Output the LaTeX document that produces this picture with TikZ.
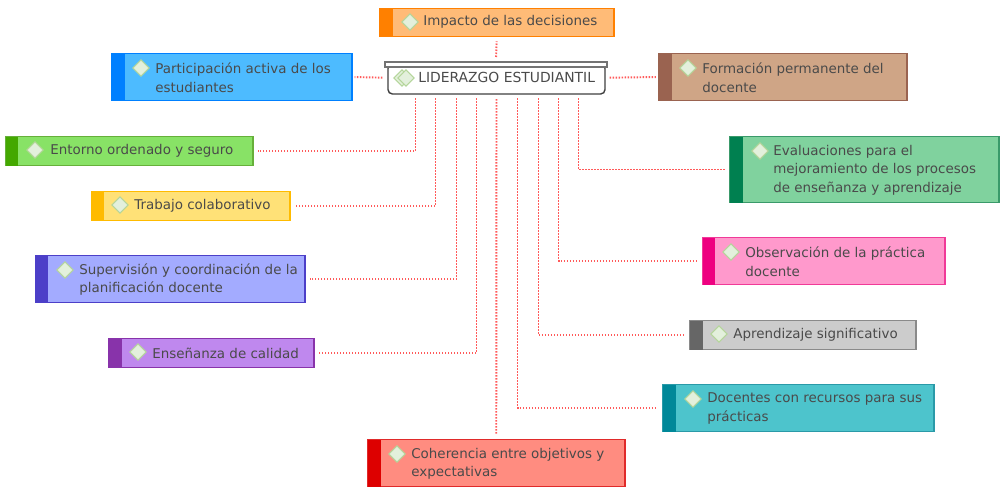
\documentclass[tikz,border=0pt]{standalone}
\usepackage{xcolor}
\usepackage{fontspec}
\setmainfont{DejaVu Sans}
\usepackage{tikz}
\usetikzlibrary{positioning,calc,fit,shapes.geometric}

\definecolor{textgray}{HTML}{4A4A4A}
\definecolor{linkred}{HTML}{FF5A5A}
\definecolor{markline}{HTML}{B5D69B}
\definecolor{markfill}{HTML}{E3F0DC}
\definecolor{orangeline}{HTML}{FF8000}
\definecolor{orangefill}{HTML}{FFBB77}
\definecolor{blueline}{HTML}{0080FF}
\definecolor{bluefill}{HTML}{4DBBFF}
\definecolor{greenline}{HTML}{44A800}
\definecolor{greenedge}{HTML}{66B03A}
\definecolor{greenfill}{HTML}{88E266}
\definecolor{yellowline}{HTML}{FFBB00}
\definecolor{yellowfill}{HTML}{FFE177}
\definecolor{indigoline}{HTML}{4C3FC8}
\definecolor{indigofill}{HTML}{A3ABFF}
\definecolor{purpleline}{HTML}{8833AA}
\definecolor{purplefill}{HTML}{BF88EE}
\definecolor{redline}{HTML}{DD0000}
\definecolor{rededge}{HTML}{E02A2A}
\definecolor{redfill}{HTML}{FF8C80}
\definecolor{brownline}{HTML}{9A6350}
\definecolor{brownfill}{HTML}{CFA586}
\definecolor{jadeline}{HTML}{008050}
\definecolor{jadeedge}{HTML}{3A9A6A}
\definecolor{jadefill}{HTML}{80D29E}
\definecolor{pinkline}{HTML}{EE0080}
\definecolor{pinkedge}{HTML}{F03A98}
\definecolor{pinkfill}{HTML}{FF99CC}
\definecolor{grayline}{HTML}{666666}
\definecolor{grayedge}{HTML}{8A8A8A}
\definecolor{grayfill}{HTML}{CCCCCC}
\definecolor{tealline}{HTML}{008899}
\definecolor{tealedge}{HTML}{2A9AA8}
\definecolor{tealfill}{HTML}{4DC4CC}

\begin{document}
\begin{tikzpicture}[
	x=0.02cm, y=-0.02cm,
	every node/.style={font=\fontsize{7.65}{10.6}\selectfont, text=textgray},
	topic_box/.style 2 args={
		rectangle, draw=#1, fill=#2, line width=0.65pt, inner sep=0pt
	},
	topic_strip/.style={
		rectangle, fill=#1, inner sep=0pt
	},
	topic_mark/.style={
		diamond, draw=markline, fill=markfill, line width=0.6pt,
		minimum size=0.33cm, inner sep=0pt
	},
	topic_text/.style={
		anchor=west, align=left, inner sep=0pt, yshift=-0.4pt
	},
	root_box/.style={
		rectangle, draw=black!75, fill=white, line width=0.8pt,
		rounded corners=2.5pt, inner sep=0pt
	},
	root_bar/.style={
		rectangle, draw=black!55, fill=white, line width=0.7pt, inner sep=0pt
	},
	link/.style={
		draw=linkred, line width=1.1pt, dash pattern=on 0.8536pt off 0.8536pt,
		shorten >=2.5pt, shorten <=2.5pt
	},
	root_link/.style={
		link, shorten >=1.2pt, shorten <=1.2pt
	}
	]
	\path[use as bounding box, fill=white] (0,0) rectangle (1000,487);

	% --- 1. central node ---
	\node[root_box, fit={(388,64)(605,94)}] (root) {};
	\node[root_bar, fit={(385,62)(607,67)}] (root_top) {};
	\node[topic_mark] (root_mark_b) at (402,78) {};
	\node[topic_mark] (root_mark) at (406,78) {};
	\node[topic_text, font=\fontsize{7.9}{10.6}\selectfont] (root_text) at (418,77) {LIDERAZGO ESTUDIANTIL};

	% --- 2. ports below the central node ---
	\coordinate (P_entorno) at (415.5,94);
	\coordinate (P_trabajo) at (435.5,94);
	\coordinate (P_super) at (456.5,94);
	\coordinate (P_ense) at (476.5,94);
	\coordinate (P_docen) at (517.5,94);
	\coordinate (P_apren) at (538.5,94);
	\coordinate (P_obser) at (558.5,94);
	\coordinate (P_evalu) at (578.5,94);

	% --- 3. left topics ---
	\node[topic_box={orangeline}{orangefill}, fit={(379.5,8.5)(614,36.5)}] (B_impacto) {};
	\node[topic_strip=orangeline, fit={(379.5,8.5)(393,36.5)}] (S_impacto) {};
	\node[topic_mark] (M_impacto) at (410,22) {};
	\node[topic_text] (T_impacto) at (423,21.5) {Impacto de las decisiones};

	\node[topic_box={blueline}{bluefill}, fit={(111.5,53.5)(352,100.5)}] (B_parti) {};
	\node[topic_strip=blueline, fit={(111.5,53.5)(125,100.5)}] (S_parti) {};
	\node[topic_mark] (M_parti) at (141,68) {};
	\node[topic_text] (T_parti) at (155,77) {Participación activa de los\\estudiantes};

	\node[topic_box={greenedge}{greenfill}, fit={(5.5,136.5)(253,165.5)}] (B_entorno) {};
	\node[topic_strip=greenline, fit={(5.5,136.5)(18,165.5)}] (S_entorno) {};
	\node[topic_mark] (M_entorno) at (35,150) {};
	\node[topic_text] (T_entorno) at (50,150.5) {Entorno ordenado y seguro};

	\node[topic_box={yellowline}{yellowfill}, fit={(91.5,191.5)(290,220.5)}] (B_trabajo) {};
	\node[topic_strip=yellowline, fit={(91.5,191.5)(104,220.5)}] (S_trabajo) {};
	\node[topic_mark] (M_trabajo) at (120,205) {};
	\node[topic_text] (T_trabajo) at (134,205.5) {Trabajo colaborativo};

	\node[topic_box={indigoline}{indigofill}, fit={(35.5,255.5)(305,302.5)}] (B_super) {};
	\node[topic_strip=indigoline, fit={(35.5,255.5)(48,302.5)}] (S_super) {};
	\node[topic_mark] (M_super) at (65,270) {};
	\node[topic_text] (T_super) at (79,279) {Supervisión y coordinación de la\\planificación docente};

	\node[topic_box={purpleline}{purplefill}, fit={(108.5,338.5)(314,367.5)}] (B_ense) {};
	\node[topic_strip=purpleline, fit={(108.5,338.5)(122,367.5)}] (S_ense) {};
	\node[topic_mark] (M_ense) at (138,352) {};
	\node[topic_text] (T_ense) at (152,352.5) {Enseñanza de calidad};

	\node[topic_box={rededge}{redfill}, fit={(367.5,439.5)(625,486.5)}] (B_cohe) {};
	\node[topic_strip=redline, fit={(367.5,439.5)(381,486.5)}] (S_cohe) {};
	\node[topic_mark] (M_cohe) at (397,454) {};
	\node[topic_text] (T_cohe) at (411,463) {Coherencia entre objetivos y\\expectativas};

	% --- 4. right topics ---
	\node[topic_box={brownline}{brownfill}, fit={(658.5,53.5)(907,100.5)}] (B_forma) {};
	\node[topic_strip=brownline, fit={(658.5,53.5)(672,100.5)}] (S_forma) {};
	\node[topic_mark] (M_forma) at (688,68) {};
	\node[topic_text] (T_forma) at (702,77) {Formación permanente del\\docente};

	\node[topic_box={jadeedge}{jadefill}, fit={(729.5,136.5)(999,202.5)}] (B_evalu) {};
	\node[topic_strip=jadeline, fit={(729.5,136.5)(743,202.5)}] (S_evalu) {};
	\node[topic_mark] (M_evalu) at (760,151) {};
	\node[topic_text] (T_evalu) at (773,169.5) {Evaluaciones para el\\mejoramiento de los procesos\\de enseñanza y aprendizaje};

	\node[topic_box={pinkedge}{pinkfill}, fit={(702.5,237.5)(945,284.5)}] (B_obser) {};
	\node[topic_strip=pinkline, fit={(702.5,237.5)(715,284.5)}] (S_obser) {};
	\node[topic_mark] (M_obser) at (731,252) {};
	\node[topic_text] (T_obser) at (745,261) {Observación de la práctica\\docente};

	\node[topic_box={grayedge}{grayfill}, fit={(689.5,320.5)(916,349.5)}] (B_apren) {};
	\node[topic_strip=grayline, fit={(689.5,320.5)(703,349.5)}] (S_apren) {};
	\node[topic_mark] (M_apren) at (719,334) {};
	\node[topic_text] (T_apren) at (733,334.5) {Aprendizaje significativo};

	\node[topic_box={tealedge}{tealfill}, fit={(662.5,384.5)(934,431.5)}] (B_docen) {};
	\node[topic_strip=tealline, fit={(662.5,384.5)(676,431.5)}] (S_docen) {};
	\node[topic_mark] (M_docen) at (693,399) {};
	\node[topic_text] (T_docen) at (707,408) {Docentes con recursos para sus\\prácticas};

	% --- 5. dotted connectors ---
	\draw[link] (root_top.north) -- (B_impacto.south);
	\draw[root_link] (root_top.west |- root_text.west) -- (B_parti.east);
	\draw[root_link] (root_top.east |- root_text.west) -- (B_forma.west);
	\draw[link] (P_entorno) |- (B_entorno.east);
	\draw[link] (P_trabajo) |- (B_trabajo.east);
	\draw[link] (P_super) |- (B_super.east);
	\draw[link] (P_ense) |- (B_ense.east);
	\draw[link] (root.south) -- (B_cohe.north);
	\draw[link] (P_docen) |- (B_docen.west);
	\draw[link] (P_apren) |- (B_apren.west);
	\draw[link] (P_obser) |- (B_obser.west);
	\draw[link] (P_evalu) |- (B_evalu.west);
\end{tikzpicture}
\end{document}
